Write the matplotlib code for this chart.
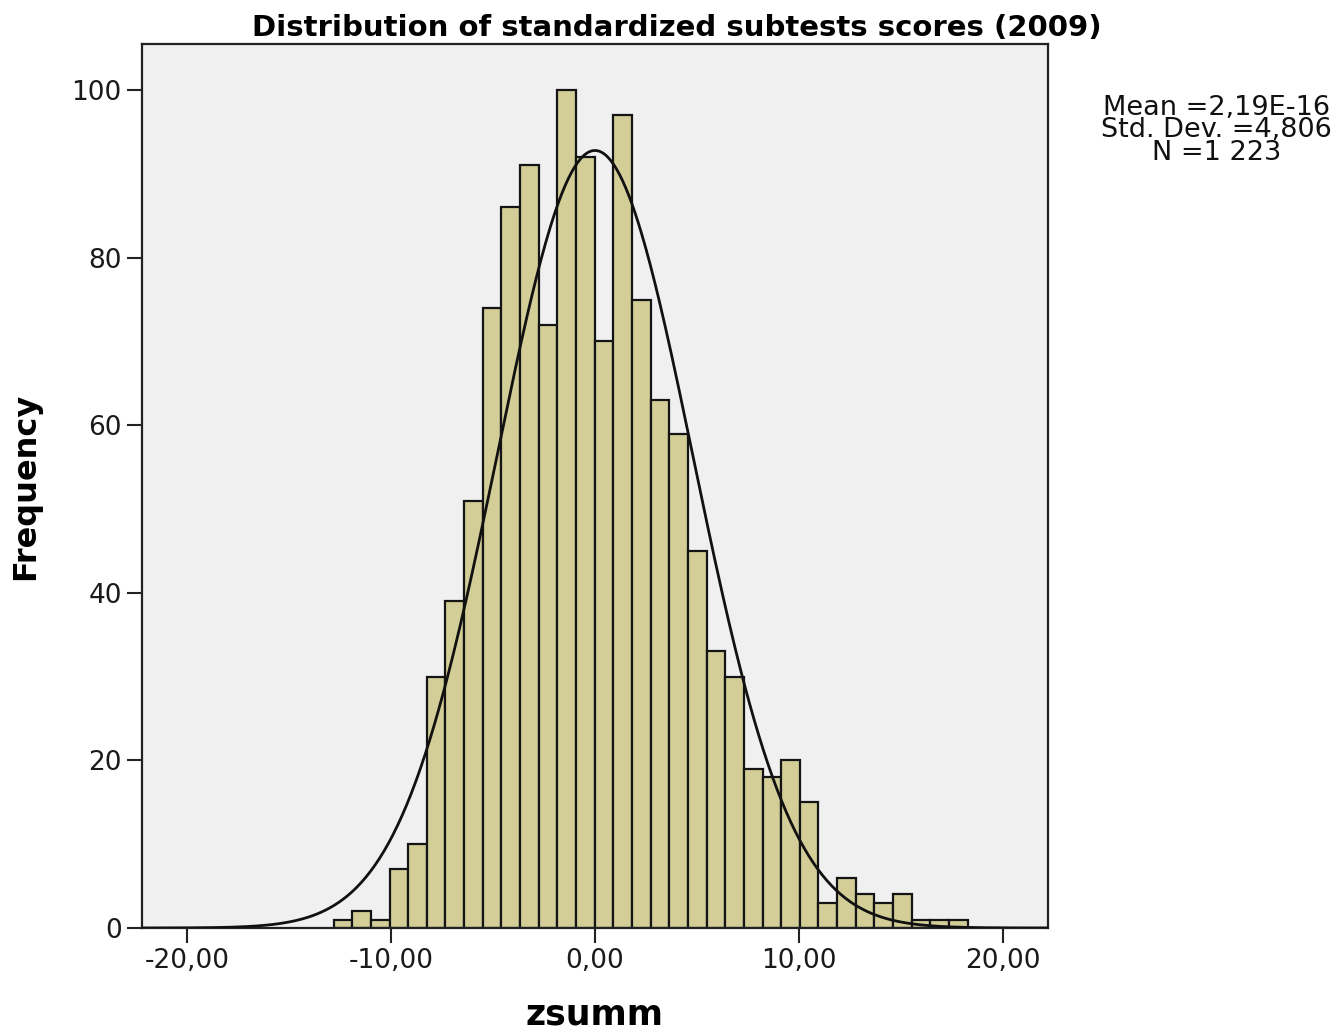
import numpy as np
import matplotlib.pyplot as plt

# histogram of zsumm, bins
bin_start = -12.81
bin_width = 0.914
counts = [1, 2, 1, 7, 10, 30, 39, 51, 74, 86, 91, 72, 100, 92, 70, 97, 75,
          63, 59, 45, 33, 30, 19, 18, 20, 15, 3, 6, 4, 3, 4, 1, 1, 1]

mean = 2.19e-16
std = 4.806
n_total = 1223

x_ticks = [-20, -10, 0, 10, 20]
x_ticklabels = ['-20,00', '-10,00', '0,00', '10,00', '20,00']
y_ticks = [0, 20, 40, 60, 80, 100]

fig = plt.figure(figsize=(13.43, 10.35), dpi=100)
ax = fig.add_axes([0.1057, 0.1034, 0.6746, 0.8541])
ax.set_facecolor('#f0f0f0')

lefts = bin_start + bin_width * np.arange(len(counts))
ax.bar(lefts, counts, width=bin_width, align='edge', color='#d3ce98',
       edgecolor='#141414', linewidth=1.6, zorder=2)

# fitted normal curve
xs = np.linspace(-22.2, 22.2, 600)
ys = n_total * bin_width * np.exp(-0.5 * ((xs - mean) / std) ** 2) / (std * np.sqrt(2 * np.pi))
ax.plot(xs, ys, color='#111111', linewidth=2.0, zorder=3)

ax.set_xlim(-22.2, 22.2)
ax.set_ylim(0, 105.5)
ax.set_xticks(x_ticks)
ax.set_xticklabels(x_ticklabels)
ax.set_yticks(y_ticks)
ax.tick_params(axis='both', direction='out', length=10.5, width=1.5,
               labelsize=19, color='#222222', labelcolor='#1a1a1a', pad=4)
for sp in ax.spines.values():
    sp.set_linewidth(1.6)
    sp.set_color('#222222')

ax.set_title('Distribution of standardized subtests scores (2009)',
             fontsize=21, fontweight='bold', pad=6, x=0.59)
ax.set_ylabel('Frequency', fontsize=23, fontweight='bold', labelpad=22)
ax.set_xlabel('zsumm', fontsize=25, fontweight='bold', labelpad=17)

fig.text(0.906, 0.874, 'Mean =2,19E-16\nStd. Dev. =4,806\nN =1 223',
         ha='center', va='center', fontsize=19.5, linespacing=0.82,
         color='#111111')

fig.savefig('out.png', dpi=100)
